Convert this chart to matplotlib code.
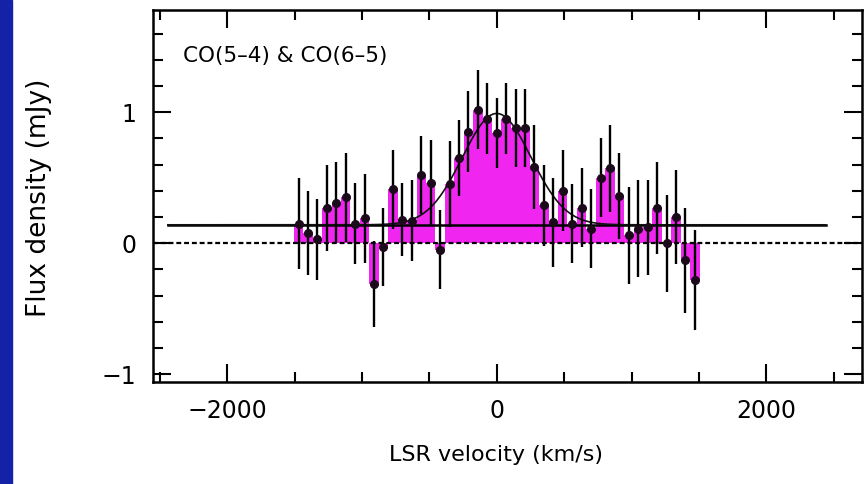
import numpy as np
import matplotlib
matplotlib.use("Agg")
import matplotlib.pyplot as plt
from matplotlib.ticker import MultipleLocator

# ── Spectrum (70 km/s channels) ─────────────────────────────────────────
VELOCITY = [-1470, -1400, -1330, -1260, -1190, -1120, -1050, -980, -910, -840,
            -770, -700, -630, -560, -490, -420, -350, -280, -210, -140,
            -70, 0, 70, 140, 210, 280, 350, 420, 490, 560,
            630, 700, 770, 840, 910, 980, 1050, 1120, 1190, 1260,
            1330, 1400, 1470]
FLUX = [0.15, 0.08, 0.03, 0.27, 0.31, 0.35, 0.15, 0.19, -0.31, -0.03,
        0.41, 0.18, 0.17, 0.52, 0.46, -0.05, 0.45, 0.65, 0.85, 1.02,
        0.95, 0.84, 0.95, 0.88, 0.88, 0.58, 0.29, 0.16, 0.40, 0.15,
        0.27, 0.11, 0.50, 0.57, 0.36, 0.06, 0.11, 0.12, 0.27, 0.00,
        0.20, -0.13, -0.28]
FLUX_ERR = [0.35, 0.32, 0.31, 0.33, 0.31, 0.34, 0.31, 0.34, 0.33, 0.30,
            0.30, 0.28, 0.31, 0.30, 0.33, 0.30, 0.33, 0.29, 0.31, 0.30,
            0.27, 0.27, 0.27, 0.30, 0.30, 0.32, 0.31, 0.34, 0.31, 0.30,
            0.30, 0.30, 0.30, 0.33, 0.33, 0.37, 0.37, 0.36, 0.35, 0.37,
            0.36, 0.40, 0.38]
CHAN_WIDTH = 70

# continuum level + gaussian line fit
CONTINUUM = 0.14
CONT_RANGE = [-2440, 2440]
FIT_PEAK = 0.85
FIT_CENTER = 0.0
FIT_FWHM = 600.0

LABEL = "CO(5–4) & CO(6–5)"

plt.rcParams["font.family"] = "DejaVu Sans"

fig = plt.figure(figsize=(8.67, 4.84), dpi=100)
fig.patch.set_facecolor("white")
# blue slide edge on the left
fig.patches.append(plt.Rectangle((0, 0), 12 / 867, 1, transform=fig.transFigure,
                                 color="#1422a8", zorder=0))

ax = fig.add_axes([153 / 867, 1 - 382 / 484, 709 / 867, 372 / 484])

ax.bar(VELOCITY, FLUX, width=CHAN_WIDTH, color="#f026f0", linewidth=0, zorder=1)
ax.axhline(0, color="black", lw=1.6, ls=(0, (2.2, 1.3)), zorder=2)
ax.plot(CONT_RANGE, [CONTINUUM, CONTINUUM], color="black", lw=1.8, zorder=3)

v_fit = np.linspace(CONT_RANGE[0], CONT_RANGE[1], 800)
sigma = FIT_FWHM / 2.3548
fit = CONTINUUM + FIT_PEAK * np.exp(-0.5 * ((v_fit - FIT_CENTER) / sigma) ** 2)
ax.plot(v_fit, fit, color="#111111", lw=1.2, zorder=3)

ax.errorbar(VELOCITY, FLUX, yerr=FLUX_ERR, fmt="o", ms=5.5, color="#1a0a1a",
            ecolor="black", elinewidth=1.7, capsize=0, zorder=4)

ax.set_xlim(-2550, 2710)
ax.set_ylim(-1.06, 1.78)

ax.xaxis.set_major_locator(MultipleLocator(2000))
ax.xaxis.set_minor_locator(MultipleLocator(500))
ax.yaxis.set_major_locator(MultipleLocator(1))
ax.yaxis.set_minor_locator(MultipleLocator(0.2))
ax.tick_params(which="both", direction="in", top=True, right=True, width=1.5,
               labelsize=17, colors="black")
ax.tick_params(which="major", length=13, pad=12)
ax.tick_params(which="minor", length=7)
ax.set_yticks([-1, 0, 1])
ax.set_yticklabels(["−1", "0", "1"])
ax.set_xticks([-2000, 0, 2000])
ax.set_xticklabels(["−2000", "0", "2000"])
for s in ax.spines.values():
    s.set_linewidth(1.8)

ax.text(-2330, 1.38, LABEL, fontsize=15.5)

fig.text(496 / 867, 1 - 455 / 484, "LSR velocity (km/s)", ha="center", va="center",
         fontsize=16)
fig.text(39 / 867, 1 - 198 / 484, "Flux density (mJy)", ha="center", va="center",
         rotation=90, fontsize=19)

fig.savefig("out.png", dpi=100)
